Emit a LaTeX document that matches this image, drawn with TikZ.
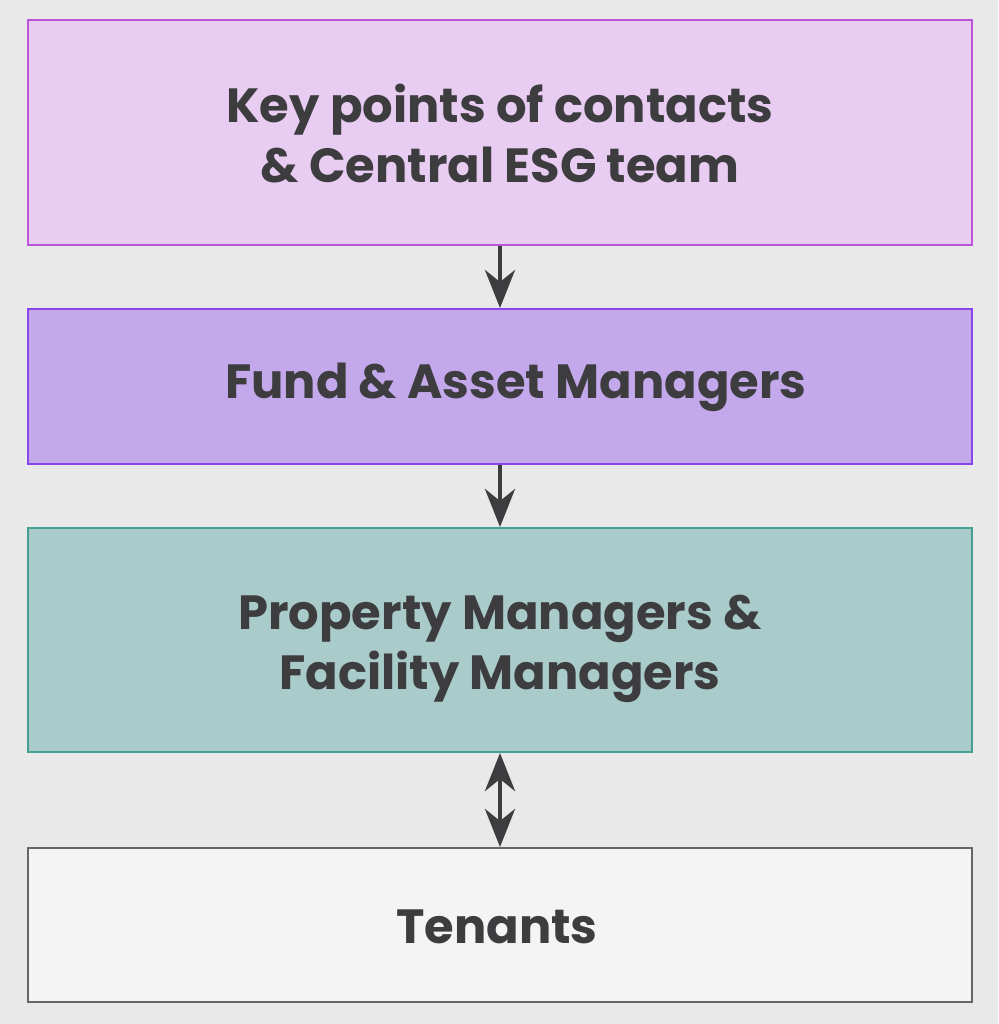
\documentclass[tikz,border=0pt]{standalone}
\usepackage{fontspec}
\setmainfont{Poppins}
\usetikzlibrary{arrows.meta}

\definecolor{bgcol}{HTML}{E9E9E9}
\definecolor{txtcol}{HTML}{3D3D40}
\definecolor{keyfill}{HTML}{E8CCF1}
\definecolor{keydraw}{HTML}{BC55DA}
\definecolor{fundfill}{HTML}{C4A8EC}
\definecolor{funddraw}{HTML}{8747EC}
\definecolor{propfill}{HTML}{A9CBC9}
\definecolor{propdraw}{HTML}{45A093}
\definecolor{tenfill}{HTML}{F4F4F4}
\definecolor{tendraw}{HTML}{666666}

\tikzset{
	level/.style={draw, line width=1pt, minimum width=472pt, inner sep=0pt,
		text=txtcol, font=\fontsize{24}{30}\selectfont\bfseries, align=center},
	link/.style={line width=2.4pt, draw=txtcol, -{Stealth[length=19pt, width=15pt, inset=6pt]}},
	twolink/.style={line width=2.4pt, draw=txtcol, {Stealth[length=19pt, width=15pt, inset=6pt]}-{Stealth[length=19pt, width=15pt, inset=6pt]}}
}

\begin{document}
\begin{tikzpicture}[x=0.5pt, y=-0.5pt]

\def\width{998}
\def\height{1024}
\def\ox{500}

\fill [bgcol] (0,0) rectangle (\width,\height);
\path [use as bounding box] (0,0) rectangle (\width,\height);

% LEVELS
\node [level, fill=keyfill, draw=keydraw, minimum height=112.5pt] (key) at (\ox,132.5) {};
\node [level, fill=fundfill, draw=funddraw, minimum height=77.5pt] (fund) at (\ox,386.5) {};
\node [level, fill=propfill, draw=propdraw, minimum height=112pt] (prop) at (\ox,640) {};
\node [level, fill=tenfill, draw=tendraw, minimum height=77pt] (ten) at (\ox,925) {};

% LABELS
\node [level, draw=none] (keytext) at (\ox,134) {Key points of contacts\\\& Central ESG team};
\node [level, draw=none, minimum width=0pt] (fundtext) at (516,387) {Fund \& Asset Managers};
\node [level, draw=none] (proptext) at (\ox,649) {Property Managers \&\\Facility Managers};
\node [level, draw=none, minimum width=0pt] (tentext) at (497,927) {Tenants};

% LINKS
\draw [link] (key.south) -- (fund.north);
\draw [link] (fund.south) -- (prop.north);
\draw [twolink] (prop.south) -- (ten.north);

\end{tikzpicture}
\end{document}
